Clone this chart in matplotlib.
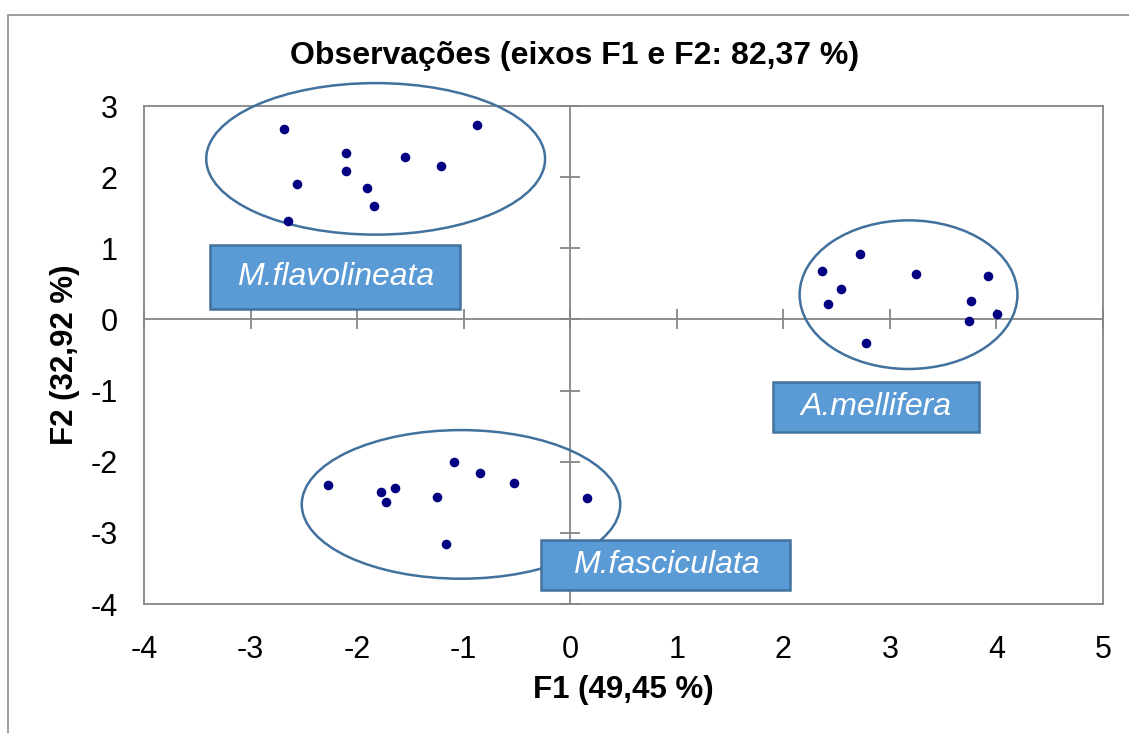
import matplotlib
matplotlib.use("Agg")
import matplotlib.pyplot as plt
from matplotlib.patches import Ellipse, Rectangle

plt.rcParams['font.family'] = ['Liberation Sans', 'DejaVu Sans']

# --- data ---
f1_flavo = [-2.685, -0.873, -2.106, -1.546, -1.214, -2.106, -2.560, -1.906, -1.837, -2.651]
f2_flavo = [2.68, 2.73, 2.34, 2.29, 2.16, 2.08, 1.90, 1.85, 1.60, 1.39]
f1_mell = [2.72, 2.366, 3.243, 3.918, 2.541, 3.759, 2.416, 4.006, 3.743, 2.776]
f2_mell = [0.925, 0.677, 0.636, 0.608, 0.425, 0.266, 0.215, 0.075, -0.023, -0.332]
f1_fasc = [-2.275, -1.772, -1.649, -1.731, -1.246, -1.089, -0.845, -0.529, 0.153, -1.164]
f2_fasc = [-2.327, -2.43, -2.374, -2.56, -2.495, -2.0, -2.163, -2.304, -2.514, -3.159]

group_names = ['M.flavolineata', 'A.mellifera', 'M.fasciculata']
ell_centers = [(-1.826, 2.257), (3.175, 0.348), (-1.025, -2.60)]
ell_sizes = [(3.18, 2.13), (2.044, 2.089), (2.989, 2.089)]
# label boxes: (x0, y0, x1, y1) in data units
label_boxes = [(-3.38, 0.14, -1.033, 1.05), (1.906, -1.58, 3.838, -0.873), (-0.272, -3.799, 2.066, -3.098)]

x_ticks = [-4, -3, -2, -1, 0, 1, 2, 3, 4, 5]
y_ticks = [-4, -3, -2, -1, 0, 1, 2, 3]

title = 'Observações (eixos F1 e F2: 82,37 %)'
xlabel = 'F1 (49,45 %)'
ylabel = 'F2 (32,92 %)'

# --- figure ---
fig = plt.figure(figsize=(11.29, 7.33), dpi=100)
W, H = 1129, 733
ax = fig.add_axes([144 / W, 1 - 604 / H, (1103 - 144) / W, (604 - 106) / H])

# outer chart frame (cropped on right and bottom)
fig.patches.append(Rectangle((8 / W, -0.1), 1.2, 1 - 15 / H + 0.1, transform=fig.transFigure,
                             fill=False, edgecolor='#8c8c8c', linewidth=1.2, zorder=0))

ax.set_xlim(-4, 5)
ax.set_ylim(-4, 3)
gray = '#868686'
for s in ax.spines.values():
    s.set_color(gray)
    s.set_linewidth(1.3)

ax.axhline(0, color=gray, linewidth=1.3, zorder=1)
ax.axvline(0, color=gray, linewidth=1.3, zorder=1)
ax.plot(x_ticks, [0] * len(x_ticks), linestyle='none', marker='|', markersize=14,
        markeredgewidth=1.3, color=gray, zorder=1, clip_on=False)
ax.plot([0] * len(y_ticks), y_ticks, linestyle='none', marker='_', markersize=14,
        markeredgewidth=1.3, color=gray, zorder=1, clip_on=False)

ax.set_xticks(x_ticks)
ax.set_yticks(y_ticks)
ax.set_xticklabels([str(v) for v in x_ticks])
ax.set_yticklabels([str(v) for v in y_ticks])
ax.tick_params(length=0, labelsize=22)
ax.tick_params(axis='x', pad=22)
ax.tick_params(axis='y', pad=19)

for xs, ys in [(f1_flavo, f2_flavo), (f1_mell, f2_mell), (f1_fasc, f2_fasc)]:
    ax.scatter(xs, ys, s=48, color='#000080', zorder=4, linewidths=0)

for (cx, cy), (w, h) in zip(ell_centers, ell_sizes):
    ax.add_patch(Ellipse((cx, cy), w, h, fill=False, edgecolor='#41719C', linewidth=1.8,
                         zorder=3, clip_on=False))

for name, (x0, y0, x1, y1) in zip(group_names, label_boxes):
    ax.add_patch(Rectangle((x0, y0), x1 - x0, y1 - y0, facecolor='#5B9BD5',
                           edgecolor='#41719C', linewidth=1.8, zorder=5, clip_on=False))
    ax.text((x0 + x1) / 2, (y0 + y1) / 2, name, ha='center', va='center', color='white',
            fontsize=23, style='italic', zorder=6)

fig.text(575 / W, 1 - 56 / H, title, ha='center', va='center', fontsize=23, fontweight='bold')
fig.text(623 / W, 1 - 690 / H, xlabel, ha='center', va='center', fontsize=22.5, fontweight='bold')
fig.text(65 / W, 1 - 355 / H, ylabel, ha='center', va='center', fontsize=22.5, fontweight='bold',
         rotation=90)

fig.savefig('out.png', dpi=100)
